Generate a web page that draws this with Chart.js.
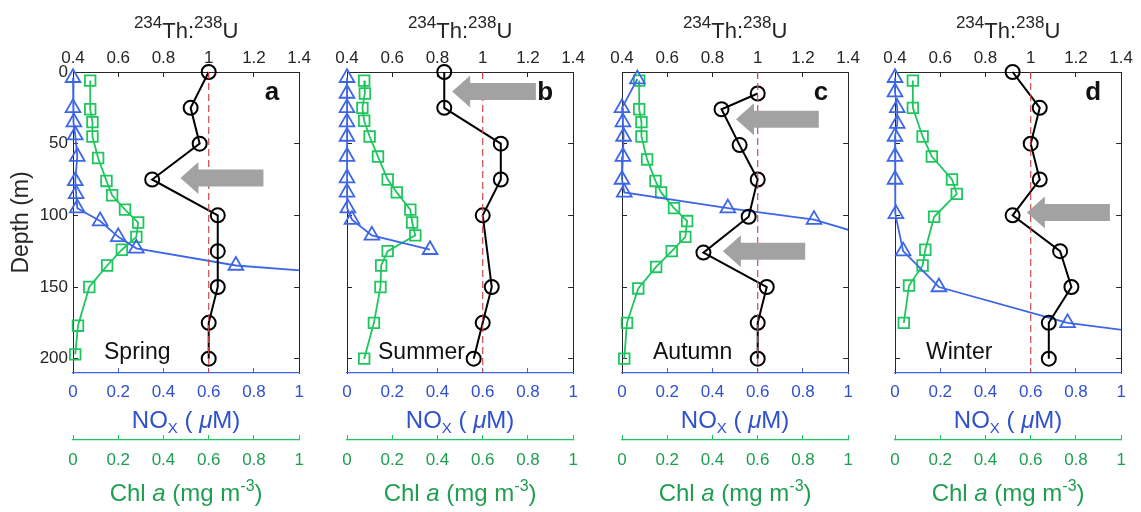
<!DOCTYPE html>
<html>
<head>
<meta charset="utf-8">
<script src="https://cdn.jsdelivr.net/npm/chart.js@4/dist/chart.umd.min.js"></script>
<style>
  html, body { margin: 0; padding: 0; background: #fff; overflow: hidden; }
  #wrap { position: relative; width: 1141px; height: 512px; }
  canvas { position: absolute; top: 0; }
</style>
</head>
<body>
<div id="wrap">
  <canvas id="chartA" width="319" height="512" style="left:0px"></canvas>
  <canvas id="chartB" width="319" height="512" style="left:274px"></canvas>
  <canvas id="chartC" width="319" height="512" style="left:549px"></canvas>
  <canvas id="chartD" width="319" height="512" style="left:822px"></canvas>
</div>
<script>
// data (depth in m)

// a - spring
const thDepthA = [0, 25, 50, 75, 100, 125, 150, 175, 200];
const thA = [1.00, 0.92, 0.96, 0.75, 1.04, 1.04, 1.04, 1.00, 1.00];
const noxDepthA = [4, 25, 35, 44, 59, 76, 85, 95, 104, 115, 123, 135, 150];
const noxA = [0, 0, 0.004, 0.01, 0.019, 0.01, 0.014, 0.019, 0.12, 0.20, 0.28, 0.72, 1.99];
const chlDepthA = [6, 26, 35, 45, 60, 76, 86, 96, 105, 115, 124, 135, 150, 177, 197];
const chlA = [0.076, 0.076, 0.086, 0.086, 0.111, 0.148, 0.173, 0.23, 0.288, 0.28, 0.216, 0.151, 0.072, 0.022, 0.01];

// b - summer
const thDepthB = [0, 25, 50, 75, 100, 150, 175, 200];
const thB = [0.83, 0.83, 1.08, 1.08, 1.00, 1.04, 1.00, 0.96];
const noxDepthB = [4, 15, 25, 35, 45, 59, 74, 84, 95, 103, 114, 124];
const noxB = [0, 0, 0, 0, 0, 0, 0, 0, 0.004, 0.022, 0.11, 0.367];
const chlDepthB = [6, 15, 25, 34, 45, 59, 75, 84, 96, 105, 114, 125, 135, 150, 175, 200];
const chlB = [0.076, 0.079, 0.068, 0.076, 0.10, 0.137, 0.18, 0.22, 0.28, 0.288, 0.302, 0.18, 0.151, 0.148, 0.119, 0.076];

// c - autumn
const thDepthC = [15, 26, 51, 75, 101, 126, 150, 175, 200];
const thC = [1.00, 0.84, 0.92, 1.00, 0.96, 0.76, 1.04, 1.00, 1.00];
const noxDepthC = [5, 25, 35, 45, 59, 75, 84, 95, 103, 125];
const noxC = [0.068, 0, 0.004, 0.007, 0.004, 0, 0.01, 0.468, 0.849, 1.32];
const chlDepthC = [6, 26, 35, 45, 61, 76, 84, 95, 104, 115, 125, 136, 151, 175, 200];
const chlC = [0.076, 0.076, 0.086, 0.086, 0.111, 0.148, 0.173, 0.23, 0.288, 0.28, 0.22, 0.151, 0.072, 0.022, 0.01];

// d - winter
const thDepthD = [0, 25, 50, 75, 100, 125, 150, 175, 200];
const thD = [0.92, 1.04, 1.00, 1.04, 0.92, 1.13, 1.18, 1.08, 1.08];
const noxDepthD = [4, 14, 25, 36, 45, 59, 75, 99, 125, 150, 175, 200];
const noxD = [0, 0, 0.01, 0.01, 0, 0, 0, 0.004, 0.036, 0.194, 0.763, 2.0];
const chlDepthD = [6, 25, 45, 59, 75, 85, 101, 124, 135, 149, 175];
const chlD = [0.079, 0.079, 0.122, 0.163, 0.252, 0.273, 0.173, 0.134, 0.122, 0.062, 0.039];

// 234Th:238U = 1 reference line
const refX = [1, 1];
const refDepth = [0, 210];

const depthTicks = [0, 50, 100, 150, 200];

const AXIS = '#262626';
const BLUE = '#3d66e6';
const BLUE_TEXT = '#2f52cc';
const GREEN = '#1fc65f';
const GREEN_TEXT = '#1f9e52';
const RED = '#d04848';
const GRAY = '#a2a2a2';
const FONT = '"Liberation Sans", Arial, sans-serif';

Chart.defaults.font.family = FONT;
Chart.defaults.font.size = 17;

function pts(xs, ys) {
  return xs.map((v, i) => ({x: v, y: ys[i]}));
}

// text with sub/superscripts, centred on cx
function drawRich(ctx, parts, cx, baseline, color) {
  let total = 0;
  parts.forEach(p => {
    ctx.font = (p.bold ? 'bold ' : '') + (p.italic ? 'italic ' : '') + p.size + 'px ' + FONT;
    p.w = ctx.measureText(p.t).width;
    total += p.w;
  });
  let x = cx - total / 2;
  ctx.fillStyle = color;
  ctx.textAlign = 'left';
  ctx.textBaseline = 'alphabetic';
  parts.forEach(p => {
    ctx.font = (p.bold ? 'bold ' : '') + (p.italic ? 'italic ' : '') + p.size + 'px ' + FONT;
    ctx.fillText(p.t, x, baseline + (p.dy || 0));
    x += p.w;
  });
}

const panelText = {
  id: 'panelText',
  afterDraw(chart, args, opts) {
    const ctx = chart.ctx;
    const area = chart.chartArea;
    const xTh = chart.scales.xTh;
    const y = chart.scales.y;
    const cx = (area.left + area.right) / 2;
    ctx.save();

    // arrows
    ctx.fillStyle = GRAY;
    opts.arrows.forEach(a => {
      const tip = xTh.getPixelForValue(a[0]);
      const tail = xTh.getPixelForValue(a[1]);
      const py = y.getPixelForValue(a[2]);
      ctx.beginPath();
      ctx.moveTo(tip, py);
      ctx.lineTo(tip + 18, py - 16);
      ctx.lineTo(tip + 18, py - 8.5);
      ctx.lineTo(tail, py - 8.5);
      ctx.lineTo(tail, py + 8.5);
      ctx.lineTo(tip + 18, py + 8.5);
      ctx.lineTo(tip + 18, py + 16);
      ctx.closePath();
      ctx.fill();
    });

    // top title
    drawRich(ctx, [
      {t: '234', size: 17, dy: -10},
      {t: 'Th:', size: 22},
      {t: '238', size: 17, dy: -10},
      {t: 'U', size: 22}
    ], cx, 38, AXIS);

    // NOx title
    drawRich(ctx, [
      {t: 'NO', size: 24},
      {t: 'X', size: 15, dy: 5},
      {t: ' ( ', size: 24},
      {t: 'μ', size: 24, italic: true},
      {t: 'M)', size: 24}
    ], cx, 428, BLUE_TEXT);

    // Chl title
    drawRich(ctx, [
      {t: 'Chl ', size: 24},
      {t: 'a', size: 24, italic: true},
      {t: ' (mg m', size: 24},
      {t: '-3', size: 16, dy: -10},
      {t: ')', size: 24}
    ], cx, 501, GREEN_TEXT);

    // panel letter and season
    ctx.fillStyle = '#111';
    ctx.textAlign = 'right';
    ctx.textBaseline = 'alphabetic';
    ctx.font = 'bold 26px ' + FONT;
    ctx.fillText(opts.letter, area.right - 20, area.top + 28);
    ctx.textAlign = 'left';
    ctx.font = '23px ' + FONT;
    ctx.fillText(opts.season, area.left + 31, 359);
    ctx.restore();
  }
};

function makeChart(id, p, showY) {
  return new Chart(document.getElementById(id), {
    type: 'line',
    data: {
      datasets: [{
        data: pts(refX, refDepth),
        xAxisID: 'xTh', yAxisID: 'y',
        borderColor: RED, borderWidth: 1.2, borderDash: [7, 4],
        pointRadius: 0, order: 0
      }, {
        data: pts(p.th, p.thDepth),
        xAxisID: 'xTh', yAxisID: 'y',
        borderColor: '#000', borderWidth: 2,
        pointStyle: 'circle', pointRadius: 7, pointBorderWidth: 2,
        pointBorderColor: '#000', pointBackgroundColor: 'rgba(0,0,0,0)',
        clip: false, order: 1
      }, {
        data: pts(p.nox, p.noxDepth),
        xAxisID: 'xNox', yAxisID: 'y',
        borderColor: BLUE, borderWidth: 1.8,
        pointStyle: 'triangle', pointRadius: 8.5, pointBorderWidth: 1.8,
        pointBorderColor: BLUE, pointBackgroundColor: 'rgba(0,0,0,0)',
        clip: {left: 12, top: 12, right: 0, bottom: 0}, order: 2
      }, {
        data: pts(p.chl, p.chlDepth),
        xAxisID: 'xChl', yAxisID: 'y',
        borderColor: GREEN, borderWidth: 1.8,
        pointStyle: 'rect', pointRadius: 7.5, pointBorderWidth: 1.8,
        pointBorderColor: GREEN, pointBackgroundColor: 'rgba(0,0,0,0)',
        clip: {left: 12, top: 12, right: 0, bottom: 0}, order: 3
      }]
    },
    options: {
      responsive: false,
      animation: false,
      layout: { padding: 0 },
      plugins: {
        legend: { display: false },
        tooltip: { enabled: false },
        panelText: { letter: p.letter, season: p.season, arrows: p.arrows }
      },
      elements: { line: { tension: 0 } },
      scales: {
        y: {
          type: 'linear', axis: 'y', position: 'left',
          min: 0, max: 210, reverse: true,
          afterBuildTicks: s => { s.ticks = depthTicks.map(v => ({value: v})); },
          ticks: { display: showY, color: AXIS, padding: 10 },
          grid: { drawOnChartArea: false, tickLength: -5, color: AXIS },
          border: { color: AXIS, width: 1 },
          title: { display: showY, text: 'Depth (m)', color: AXIS, font: {size: 23}, padding: {top: 8, bottom: 0} },
          afterFit: s => { s.width = 73; }
        },
        yR: {
          type: 'linear', axis: 'y', position: 'right',
          min: 0, max: 210, reverse: true,
          afterBuildTicks: s => { s.ticks = depthTicks.map(v => ({value: v})); },
          ticks: { display: false },
          grid: { drawOnChartArea: false, tickLength: -5, color: AXIS },
          border: { color: AXIS, width: 1 },
          afterFit: s => { s.width = 14; }
        },
        xTh: {
          type: 'linear', axis: 'x', position: 'top',
          min: 0.4, max: 1.4,
          ticks: { stepSize: 0.2, color: AXIS, padding: 8, callback: v => String(+v.toFixed(1)) },
          grid: { drawOnChartArea: false, tickLength: -5, color: AXIS },
          border: { color: AXIS, width: 1 },
          afterFit: s => { s.height = 72; }
        },
        xNox: {
          type: 'linear', axis: 'x', position: 'bottom', weight: 0,
          min: 0, max: 1,
          ticks: { stepSize: 0.2, color: BLUE_TEXT, padding: 14, callback: v => String(+v.toFixed(1)) },
          grid: { drawOnChartArea: false, tickLength: -5, color: BLUE },
          border: { color: BLUE, width: 1.2 },
          afterFit: s => { s.height = 67; }
        },
        xChl: {
          type: 'linear', axis: 'x', position: 'bottom', weight: 1,
          min: 0, max: 1,
          ticks: { stepSize: 0.2, color: GREEN_TEXT, padding: 15, callback: v => String(+v.toFixed(1)) },
          grid: { drawOnChartArea: false, tickLength: -5, color: GREEN },
          border: { color: GREEN, width: 1.2 },
          afterFit: s => { s.height = 72; }
        }
      }
    },
    plugins: [panelText]
  });
}

makeChart('chartA', {
  th: thA, thDepth: thDepthA, nox: noxA, noxDepth: noxDepthA, chl: chlA, chlDepth: chlDepthA,
  letter: 'a', season: 'Spring', arrows: [[0.875, 1.242, 74]]
}, true);

makeChart('chartB', {
  th: thB, thDepth: thDepthB, nox: noxB, noxDepth: noxDepthB, chl: chlB, chlDepth: chlDepthB,
  letter: 'b', season: 'Summer', arrows: [[0.865, 1.235, 13.6]]
}, false);

makeChart('chartC', {
  th: thC, thDepth: thDepthC, nox: noxC, noxDepth: noxDepthC, chl: chlC, chlDepth: chlDepthC,
  letter: 'c', season: 'Autumn', arrows: [[0.904, 1.27, 33], [0.846, 1.21, 125]]
}, false);

makeChart('chartD', {
  th: thD, thDepth: thDepthD, nox: noxD, noxDepth: noxDepthD, chl: chlD, chlDepth: chlDepthD,
  letter: 'd', season: 'Winter', arrows: [[0.983, 1.35, 98]]
}, false);
</script>
</body>
</html>
